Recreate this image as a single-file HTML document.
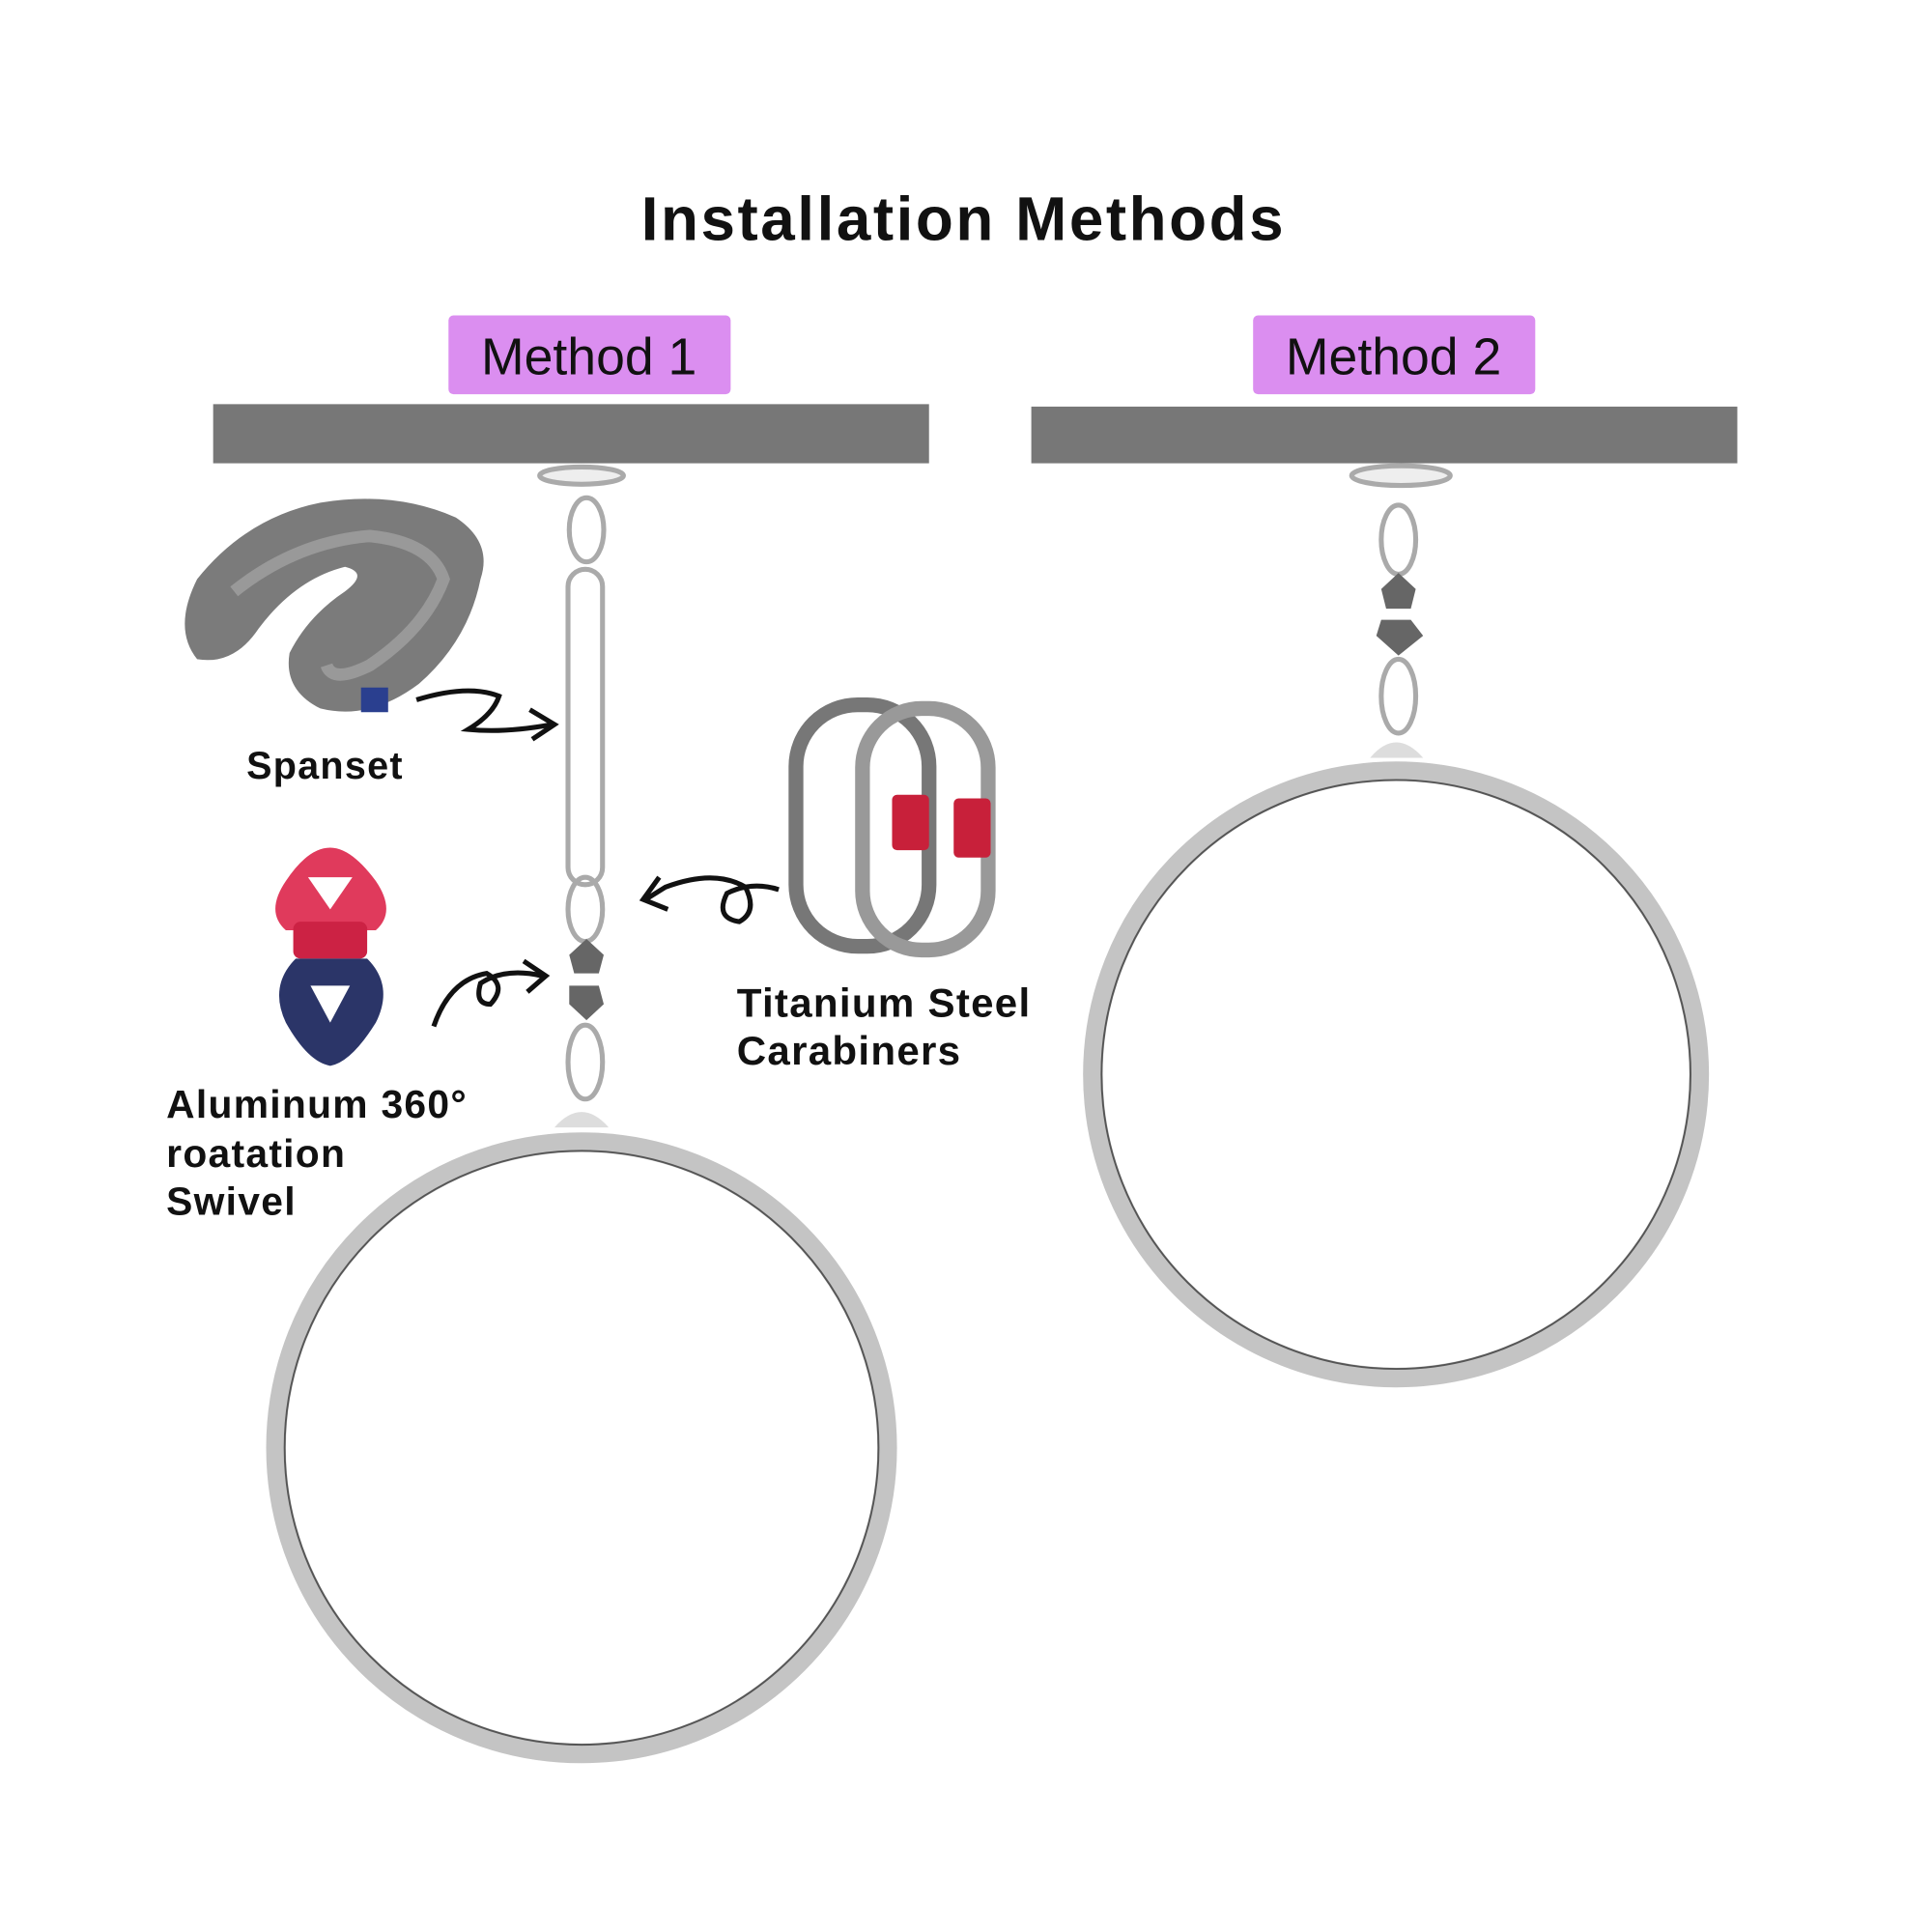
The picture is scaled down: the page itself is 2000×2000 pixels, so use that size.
<!DOCTYPE html>
<html><head><meta charset="utf-8"><style>
html,body{margin:0;padding:0;background:#fff;}
svg{display:block;}
text{font-family:"Liberation Sans",sans-serif;font-weight:bold;fill:#111;}
</style></head><body>
<svg width="2000" height="2000" viewBox="0 0 1568 1568" xmlns="http://www.w3.org/2000/svg">
<rect width="1568" height="1568" fill="#fff"/>
<text x="782" y="195" text-anchor="middle" font-size="50" letter-spacing="2">Installation Methods</text>
<rect x="364" y="256" width="229" height="64" rx="4" fill="#db8ef0"/>
<text x="478" y="304" text-anchor="middle" font-size="42" style="font-weight:500">Method 1</text>
<rect x="1017" y="256" width="229" height="64" rx="4" fill="#db8ef0"/>
<text x="1131" y="304" text-anchor="middle" font-size="42" style="font-weight:500">Method 2</text>
<rect x="173" y="328" width="581" height="48" fill="#777"/>
<rect x="837" y="330" width="573" height="46" fill="#777"/>

<g fill="none" stroke="#aaa" stroke-width="4">
<ellipse cx="472" cy="386" rx="34" ry="7" fill="#eee"/>
<ellipse cx="476" cy="430" rx="14" ry="26"/>
<rect x="461" y="462" width="28" height="256" rx="14"/>
<ellipse cx="475" cy="738" rx="14" ry="26"/>
<ellipse cx="475" cy="862" rx="14" ry="30"/>
</g>
<path d="M462 775 L476 762 L490 775 L486 790 L466 790Z" fill="#666"/>
<path d="M462 800 L486 800 L490 815 L476 828 L462 815Z" fill="#666"/>
<path d="M450 915 Q472 890 494 915Z" fill="#ddd"/>
<circle cx="472" cy="1175" r="248" fill="none" stroke="#c4c4c4" stroke-width="16"/>
<circle cx="472" cy="1175" r="241" fill="none" stroke="#555" stroke-width="1.5"/>

<g fill="none" stroke="#aaa" stroke-width="4">
<ellipse cx="1137" cy="386" rx="40" ry="8" fill="#eee"/>
<ellipse cx="1135" cy="438" rx="14" ry="28"/>
<ellipse cx="1135" cy="565" rx="14" ry="30"/>
</g>
<path d="M1121 478 L1135 465 L1149 478 L1145 494 L1125 494Z" fill="#666"/>
<path d="M1121 503 L1145 503 L1155 516 L1135 532 L1117 516Z" fill="#666"/>
<path d="M1112 615 Q1133 590 1155 615Z" fill="#ddd"/>
<circle cx="1133" cy="872" r="246" fill="none" stroke="#c4c4c4" stroke-width="16"/>
<circle cx="1133" cy="872" r="239" fill="none" stroke="#555" stroke-width="1.5"/>

<path d="M160 470 Q200 420 260 408 Q320 398 370 420 Q400 440 390 470 Q380 520 340 555 Q300 585 260 575 Q230 560 235 530 Q250 500 280 480 Q300 465 280 460 Q240 470 210 510 Q190 540 160 535 Q140 510 160 470Z" fill="#7b7b7b"/>
<path d="M190 480 Q240 440 300 435 Q350 440 360 470 Q345 510 300 540 Q270 555 265 540" fill="none" stroke="#999" stroke-width="10"/>
<rect x="293" y="558" width="22" height="20" fill="#2a3f8f"/>
<text x="200" y="632" font-size="31" letter-spacing="1">Spanset</text>
<path d="M338 568 Q380 555 405 565 Q400 580 380 592 Q410 595 448 588" fill="none" stroke="#111" stroke-width="4"/>
<path d="M430 576 L450 588 L432 600" fill="none" stroke="#111" stroke-width="4"/>

<path d="M268 688 Q285 688 305 715 Q322 740 305 755 L232 755 Q215 740 232 715 Q250 688 268 688Z" fill="#e03a5c"/>
<path d="M250 712 L286 712 L268 738Z" fill="#fff"/>
<rect x="238" y="748" width="60" height="30" rx="6" fill="#cc2244"/>
<path d="M240 778 L298 778 Q320 800 305 830 Q285 862 268 865 Q250 862 232 830 Q218 800 240 778Z" fill="#2b3568"/>
<path d="M252 800 L284 800 L268 830Z" fill="#fff"/>
<text x="135" y="907" font-size="32" letter-spacing="1">Aluminum 360°</text>
<text x="135" y="947" font-size="32" letter-spacing="1">roatation</text>
<text x="135" y="986" font-size="32" letter-spacing="1">Swivel</text>
<path d="M352 833 Q365 795 395 790 Q412 800 398 815 Q385 815 390 798 Q410 785 440 792" fill="none" stroke="#111" stroke-width="4"/>
<path d="M425 780 L443 792 L428 805" fill="none" stroke="#111" stroke-width="4"/>

<rect x="646" y="572" width="108" height="196" rx="50" fill="none" stroke="#777" stroke-width="12"/>
<rect x="700" y="575" width="102" height="196" rx="48" fill="none" stroke="#999" stroke-width="12"/>
<rect x="724" y="645" width="30" height="45" rx="4" fill="#c8203a"/>
<rect x="774" y="648" width="30" height="48" rx="4" fill="#c8203a"/>
<text x="598" y="825" font-size="33" letter-spacing="1">Titanium Steel</text>
<text x="598" y="864" font-size="33" letter-spacing="1">Carabiners</text>
<path d="M632 722 Q610 715 590 725 Q580 745 600 748 Q615 740 605 720 Q580 705 540 720 L524 730" fill="none" stroke="#111" stroke-width="4"/>
<path d="M535 712 L522 730 L542 738" fill="none" stroke="#111" stroke-width="4"/>
</svg>
</body></html>
